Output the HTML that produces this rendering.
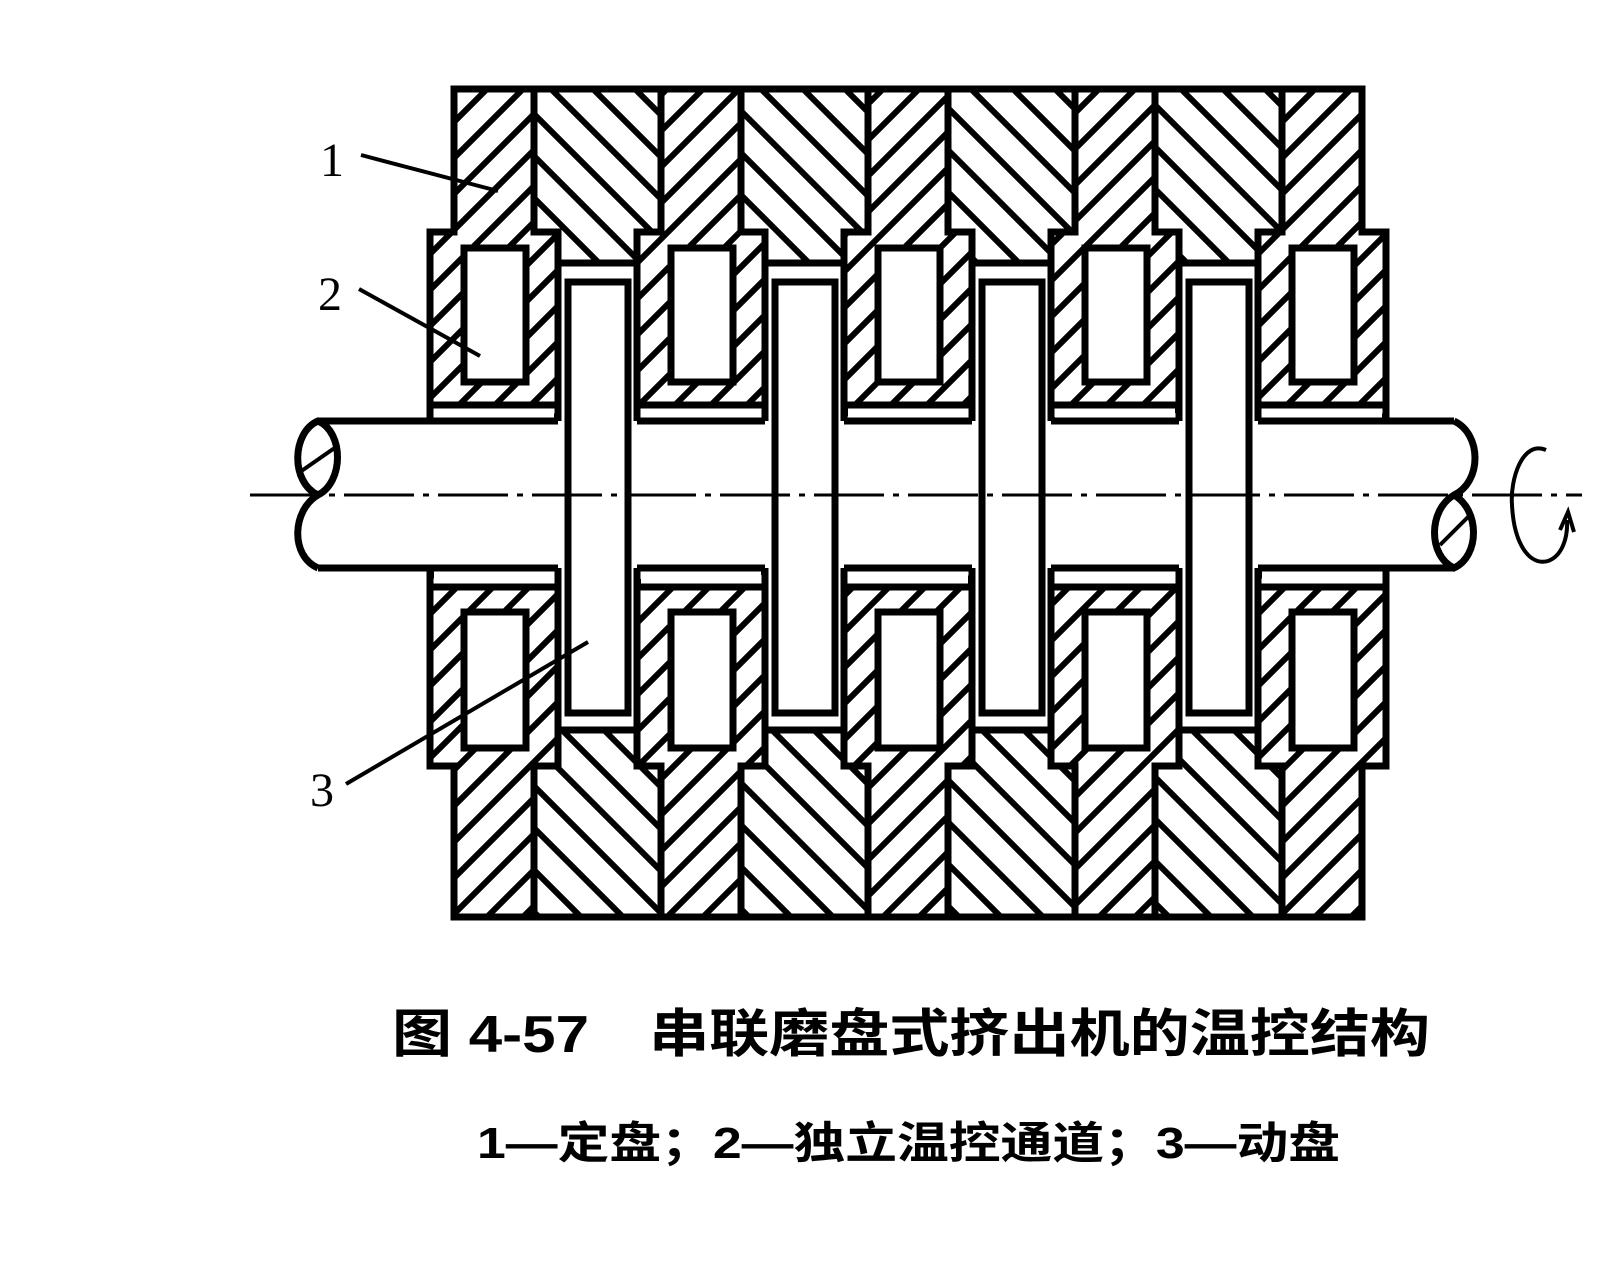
<!DOCTYPE html>
<html><head><meta charset="utf-8"><style>html,body{margin:0;padding:0;background:#fff}svg{display:block}</style></head><body>
<svg xmlns="http://www.w3.org/2000/svg" width="1618" height="1280" viewBox="0 0 1618 1280">
<defs>
<pattern id="hf" patternUnits="userSpaceOnUse" width="36" height="36"><path d="M-9,9 L9,-9 M0,36 L36,0 M27,45 L45,27" stroke="#000" stroke-width="6"/></pattern>
<pattern id="hb" patternUnits="userSpaceOnUse" width="42" height="42"><path d="M-10,32 L10,52 M0,0 L42,42 M32,-10 L52,10" stroke="#000" stroke-width="6"/></pattern>
</defs>
<g id="draw" fill="none" stroke="#000" stroke-width="7" stroke-linejoin="miter"></g>
<g fill="none" stroke="#000" stroke-width="4">
<line x1="361" y1="155" x2="498" y2="191"/>
<line x1="359" y1="289" x2="480" y2="356"/>
<line x1="346" y1="784" x2="588" y2="642"/>
</g>
<g font-family="Liberation Serif, serif" font-size="48" fill="#000">
<text x="320" y="176">1</text>
<text x="318" y="310">2</text>
<text x="310" y="806">3</text>
</g>
<text x="392" y="1052" font-family="Liberation Sans, 'Noto Sans CJK SC', sans-serif" font-weight="bold" font-size="52" textLength="1038" lengthAdjust="spacingAndGlyphs">图 4-57　串联磨盘式挤出机的温控结构</text>
<text x="477" y="1158" font-family="Liberation Sans, 'Noto Sans CJK SC', sans-serif" font-weight="bold" font-size="44" textLength="863" lengthAdjust="spacingAndGlyphs">1—定盘；2—独立温控通道；3—动盘</text>
<script>
(function(){
var g=document.getElementById('draw');var NS='http://www.w3.org/2000/svg';
function el(t,a){var e=document.createElementNS(NS,t);for(var k in a)e.setAttribute(k,a[k]);g.appendChild(e);return e;}
function poly(pts,fill){el('polygon',{points:pts.map(function(p){return p.join(',')}).join(' '),fill:fill});}
var L=[430,637,844,1051,1258];
var U={top:89,step:232,gap:263,hatch:405,shaft:421,r1:248,r2:382};
var D={top:917,step:766,gap:730,hatch:587,shaft:568,r1:612,r2:748};
[U,D].forEach(function(S){
  for(var i=0;i<4;i++){var a=L[i],b=L[i+1];
    poly([[a+104,S.top],[b+24,S.top],[b+24,S.step],[b,S.step],[b,S.gap],[a+128,S.gap],[a+128,S.step],[a+104,S.step]],'url(#hb)');}
  for(var i=0;i<5;i++){var l=L[i];
    poly([[l+24,S.top],[l+104,S.top],[l+104,S.step],[l+128,S.step],[l+128,S.shaft],[l,S.shaft],[l,S.step],[l+24,S.step]],'url(#hf)');
    var y0=Math.min(S.hatch,S.shaft),h=Math.abs(S.shaft-S.hatch);
    el('rect',{x:l+4,y:y0+3,width:120,height:h-3,fill:'#fff',stroke:'none'});
    el('line',{x1:l,y1:S.hatch,x2:l+128,y2:S.hatch});
    el('rect',{x:l+34,y:S.r1,width:62,height:S.r2-S.r1,fill:'#fff'});
  }
});
el('rect',{x:318,y:424,width:1136,height:141,fill:'#fff',stroke:'none'});
el('line',{x1:318,y1:421,x2:1454,y2:421});
el('line',{x1:318,y1:568,x2:1454,y2:568});
for(var i=0;i<4;i++){var a=L[i]+128,b=L[i+1];
  el('rect',{x:a,y:263,width:b-a,height:467,fill:'#fff',stroke:'none'});
  el('line',{x1:a,y1:263,x2:a,y2:421});el('line',{x1:b,y1:263,x2:b,y2:421});
  el('line',{x1:a,y1:568,x2:a,y2:730});el('line',{x1:b,y1:568,x2:b,y2:730});
  el('line',{x1:a-3,y1:263,x2:b+3,y2:263});el('line',{x1:a-3,y1:730,x2:b+3,y2:730});
  el('rect',{x:L[i]+138,y:282,width:60,height:431,fill:'#fff'});
}
el('path',{d:'M318,421 C292,432 290,482 318,495 C344,482 344,432 318,421 Z M318,495 C292,510 290,556 318,568',fill:'#fff'});
el('line',{x1:300,y1:472,x2:336,y2:447,'stroke-width':4});
el('path',{d:'M1454,421 C1482,434 1482,482 1454,495 C1428,510 1428,556 1454,568 C1480,556 1480,510 1454,495'});
el('line',{x1:1440,y1:545,x2:1470,y2:515,'stroke-width':4});
el('line',{x1:250,y1:495,x2:1582,y2:495,'stroke-width':3,'stroke-dasharray':'70 9 6 9'});
el('path',{d:'M1546,450 C1522,440 1510,480 1512,505 C1514,545 1530,566 1548,561 C1562,556 1568,538 1567,520','stroke-width':4});
el('path',{d:'M1560,530 L1568,512 L1574,532',fill:'none','stroke-width':4});
})();
</script>
</svg>
</body></html>
